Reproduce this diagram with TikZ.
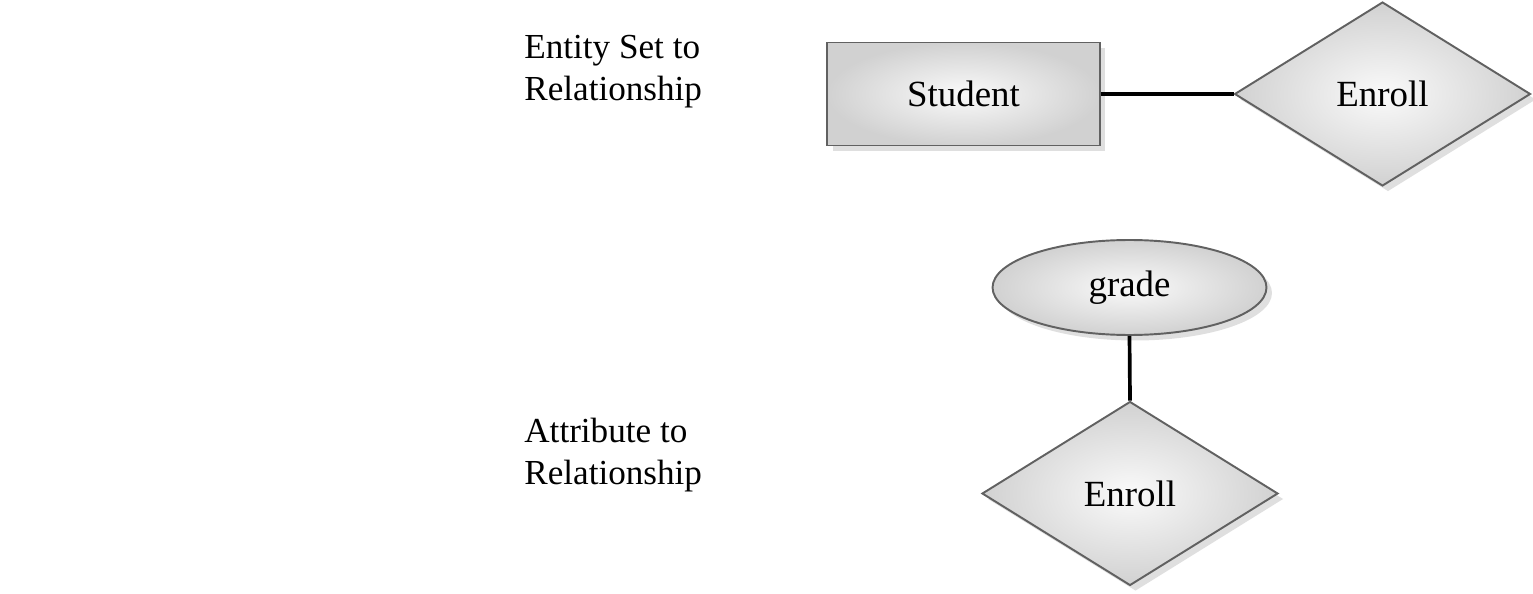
\documentclass[tikz,border=0pt]{standalone}
\usepackage{fontspec}
\setmainfont{Liberation Serif}
\usetikzlibrary{shapes.geometric,shadows}
\begin{document}
\begin{tikzpicture}[x=0.02cm,y=-0.02cm,
  erbase/.style={draw=black!62, line width=1.1pt, shading=radial, inner color=white!96!gray, outer color=gray!36,
    drop shadow={shadow xshift=0.11cm, shadow yshift=-0.11cm, fill=gray!25, opacity=1},
    inner sep=0pt, font=\fontsize{21}{25}\selectfont},
  entitybox/.style={erbase, rectangle, minimum width=5.46cm, minimum height=2.06cm},
  relbox/.style={erbase, diamond, minimum width=5.92cm, minimum height=3.68cm},
  attrbox/.style={erbase, ellipse, minimum width=5.48cm, minimum height=1.9cm},
  lbl/.style={align=left, anchor=west, inner sep=0pt, font=\fontsize{20}{24}\selectfont},
  conn/.style={line width=2.1pt, black}]
\useasboundingbox (0,0) rectangle (1533,594);
\node[lbl] (t1) at (524,72) {Entity Set to\\Relationship};
\node[lbl] (t2) at (524,455) {Attribute to\\Relationship};
\node[entitybox] (student) at (963.5,94) {Student};
\node[relbox] (enroll1) at (1382.5,94) {Enroll};
\node[attrbox] (grade) at (1129.5,287.5) {grade};
\node[relbox] (enroll2) at (1130,493.5) {Enroll};
\draw[conn] (student.east) -- (enroll1.west);
\draw[conn] (grade.south) -- (enroll2.north);
\end{tikzpicture}
\end{document}
